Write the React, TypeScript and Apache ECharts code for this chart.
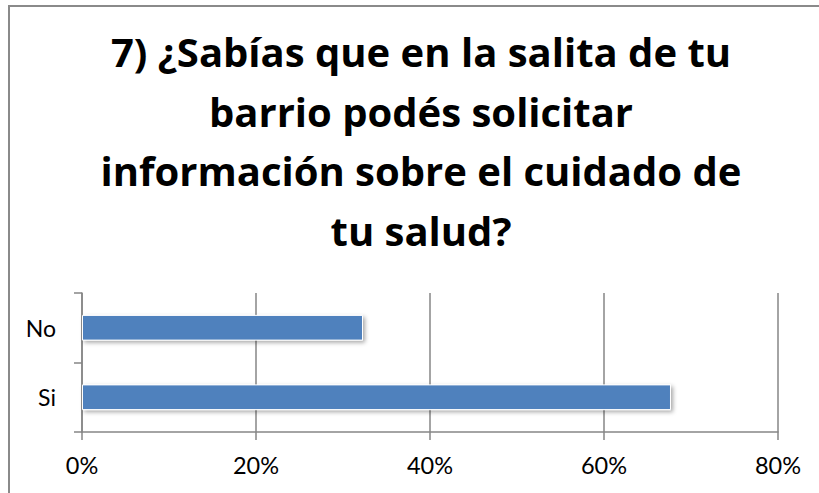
import React, { useEffect, useRef } from "react";
import * as echarts from "echarts";

const titleLines = [
  "7) ¿Sabías que en la salita de tu",
  "barrio podés solicitar",
  "información sobre el cuidado de",
  "tu salud?",
];
const categories = ["Si", "No"];
const values = [67.7, 32.3];
const xTicks = { min: 0, max: 80, interval: 20 };

export default function App() {
  const ref = useRef<HTMLDivElement>(null);
  useEffect(() => {
    const chart = echarts.init(ref.current!, null, { renderer: "svg" });
    chart.setOption({
      animation: false,
      backgroundColor: "#ffffff",
      title: {
        text: titleLines.join("\n"),
        left: 416,
        top: 17,
        textAlign: "center",
        textStyle: {
          fontFamily: "Open Sans",
          fontWeight: "bold",
          fontSize: 40,
          lineHeight: 59.5,
          color: "#000000",
        },
      },
      graphic: [
        {
          type: "rect",
          shape: { x: 9, y: 6, width: 840, height: 520 },
          style: { fill: "none", stroke: "#8a8a8a", lineWidth: 2 },
          silent: true,
        },
      ],
      grid: { left: 82, right: 41, top: 293, bottom: 61 },
      xAxis: {
        type: "value",
        min: xTicks.min,
        max: xTicks.max,
        interval: xTicks.interval,
        axisLine: { show: true, lineStyle: { color: "#868686", width: 1.5 } },
        axisTick: { show: true, length: 8, lineStyle: { color: "#868686", width: 1.5 } },
        splitLine: { show: true, lineStyle: { color: "#868686", width: 1.5 } },
        axisLabel: {
          formatter: "{value}%",
          fontFamily: "Lato",
          fontSize: 23.5,
          color: "#000000",
          margin: 21,
        },
      },
      yAxis: {
        type: "category",
        data: categories,
        axisLine: { show: true, lineStyle: { color: "#868686", width: 1.5 } },
        axisTick: { show: true, length: 8, lineStyle: { color: "#868686", width: 1.5 } },
        axisLabel: {
          fontFamily: "Lato",
          fontSize: 23,
          color: "#000000",
          margin: 26,
        },
      },
      series: [
        {
          type: "bar",
          data: values,
          barCategoryGap: "63%",
          itemStyle: {
            color: "#4F81BD",
            borderColor: "#ffffff",
            borderWidth: 1,
            shadowBlur: 4,
            shadowOffsetX: 2,
            shadowOffsetY: 2,
            shadowColor: "rgba(0,0,0,0.35)",
          },
        },
      ],
    });
    return () => chart.dispose();
  }, []);
  return (
    <div
      ref={ref}
      style={{ position: "absolute", left: 0, top: 0, width: 819, height: 493 }}
    />
  );
}
